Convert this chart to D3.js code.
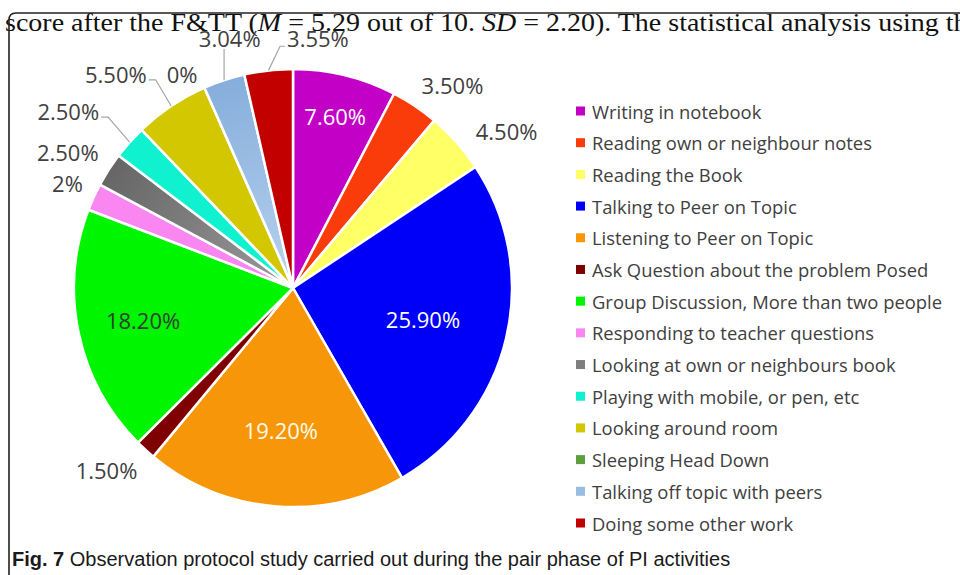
<!DOCTYPE html>
<html>
<head>
<meta charset="utf-8">
<script src="https://cdn.jsdelivr.net/npm/d3@7"></script>
<style>
  html, body { margin: 0; padding: 0; background: #fff; }
  svg { display: block; }
</style>
</head>
<body>
<div id="chart"></div>
<script>
"use strict";

// data
var categories = [
  "Writing in notebook",
  "Reading own or neighbour notes",
  "Reading the Book",
  "Talking to Peer on Topic",
  "Listening to Peer on Topic",
  "Ask Question about the problem Posed",
  "Group Discussion, More than two people",
  "Responding to teacher questions",
  "Looking at own or neighbours book",
  "Playing with mobile, or pen, etc",
  "Looking around room",
  "Sleeping Head Down",
  "Talking off topic with peers",
  "Doing some other work"
];
var values = [7.6, 3.5, 4.5, 25.9, 19.2, 1.5, 18.2, 2, 2.5, 2.5, 5.5, 0, 3.04, 3.55];
var valueLabels = ["7.60%", "3.50%", "4.50%", "25.90%", "19.20%", "1.50%", "18.20%",
                   "2%", "2.50%", "2.50%", "5.50%", "0%", "3.04%", "3.55%"];
var colors = ["#C300C6", "#FA3C0A", "#FFFF66", "#0000FA", "#F79608", "#7E0000", "#00F500",
              "#FA86F2", "#7F7F7F", "#10F2CF", "#D2C700", "#5E9E3F", "#98BDE3", "#C30000"];

var width = 960, height = 575;
var cx = 293, cy = 288, R = 219;

var svg = d3.select("#chart").append("svg")
  .attr("width", width).attr("height", height);

// two slices are shaded (darker at the rim) in the original
var defs = svg.append("defs");
function shade(id, inner, outer) {
  var gr = defs.append("radialGradient").attr("id", id)
    .attr("gradientUnits", "userSpaceOnUse")
    .attr("cx", 0).attr("cy", 0).attr("r", R);
  gr.append("stop").attr("offset", "0%").attr("stop-color", inner);
  gr.append("stop").attr("offset", "100%").attr("stop-color", outer);
}
shade("shadeGrey", "#9A9A9A", "#666666");
shade("shadeBlue", "#B8D2EE", "#86AEDC");
var fills = colors.slice();
fills[8] = "url(#shadeGrey)";
fills[12] = "url(#shadeBlue)";

// page text above the figure
var headText = svg.append("text")
  .attr("x", 5).attr("y", 31)
  .attr("font-family", "Liberation Serif, Times New Roman, serif")
  .attr("font-size", 25)
  .attr("fill", "#111")
  .attr("textLength", 975)
  .attr("lengthAdjust", "spacingAndGlyphs");
headText.append("tspan").text("score after the F&TT (");
headText.append("tspan").attr("font-style", "italic").text("M");
headText.append("tspan").text(" = 5.29 out of 10. ");
headText.append("tspan").attr("font-style", "italic").text("SD");
headText.append("tspan").text(" = 2.20). The statistical analysis using the");

// figure frame
svg.append("path")
  .attr("d", "M962,13 H16 Q9,13 9,20 V575")
  .attr("fill", "none").attr("stroke", "#222").attr("stroke-width", 1.6);

// pie
var pie = d3.pie().sort(null).value(function (d) { return d; });
var arcs = pie(values);
var arc = d3.arc().innerRadius(0).outerRadius(R);

var g = svg.append("g").attr("transform", "translate(" + cx + "," + cy + ")");

g.selectAll("path.slice")
  .data(arcs)
  .enter().append("path")
  .attr("class", "slice")
  .attr("d", arc)
  .attr("fill", function (d, i) { return fills[i]; })
  .attr("stroke", "#fff")
  .attr("stroke-width", 2.5)
  .attr("stroke-linejoin", "round");

// label placement tweaks (angle in degrees, distance from centre)
var outsideMoves = {
  2: { a: 53.7, d: 265 },
  9: { a: 308.2, d: 286, leader: true },
  10: { a: 320.4, d: 278, leader: true },
  11: { a: 332.6, d: 241 },
  12: { a: 345.8, d: 258, leader: true },
  13: { a: 5.7, d: 251, leader: true }
};
var insideDist = { 0: 0.81, 3: 0.61, 4: 0.65, 6: 0.70 };
var insideColor = { 0: "#fff", 3: "#fff", 4: "#FFFBEA", 6: "#2f3f2f" };

var labelFont = "Open Sans, Noto Sans, sans-serif";
var lblH = 22;

arcs.forEach(function (d, i) {
  var mid = (d.startAngle + d.endAngle) / 2;
  var t = g.append("text")
    .attr("font-family", labelFont)
    .attr("font-size", 22)
    .attr("text-anchor", "middle")
    .attr("dominant-baseline", "central")
    .text(valueLabels[i]);
  var w = t.node().getComputedTextLength();
  var x, y;

  if (insideDist[i] !== undefined) {
    x = Math.sin(mid) * R * insideDist[i];
    y = -Math.cos(mid) * R * insideDist[i];
    t.attr("fill", insideColor[i]);
  } else if (outsideMoves[i]) {
    var m = outsideMoves[i], a = m.a * Math.PI / 180;
    x = Math.sin(a) * m.d;
    y = -Math.cos(a) * m.d;
    t.attr("fill", "#404040");
    if (m.leader) {
      var ex = Math.sin(mid) * R, ey = -Math.cos(mid) * R;
      var pts;
      if (x + w / 2 < ex - 4) {
        pts = [[x + w / 2 + 2, y + 6], [x + w / 2 + 9, y + 6], [ex, ey]];
      } else if (x - w / 2 > ex + 4) {
        pts = [[x - w / 2 - 2, y + 8], [x - w / 2 - 7, y + 8], [ex, ey]];
      } else {
        pts = [[ex, y + lblH / 2], [ex, ey]];
      }
      g.append("path")
        .attr("d", d3.line()(pts))
        .attr("fill", "none")
        .attr("stroke", "#A6A6A6")
        .attr("stroke-width", 1.2);
    }
  } else {
    var px = Math.sin(mid) * (R + 12), py = -Math.cos(mid) * (R + 12);
    var kx = Math.max(-1, Math.min(1, Math.sin(mid) * 2));
    var ky = Math.max(-1, Math.min(1, Math.cos(mid) * 2));
    x = px + kx * w / 2;
    y = py - ky * lblH / 2;
    t.attr("fill", "#404040");
  }
  t.attr("x", x).attr("y", y);
});

// legend
var legY = d3.scalePoint().domain(d3.range(categories.length)).range([111, 523]);
var leg = svg.append("g").selectAll("g")
  .data(categories)
  .enter().append("g")
  .attr("transform", function (d, i) { return "translate(576," + legY(i) + ")"; });
leg.append("rect")
  .attr("x", 0).attr("y", -4.5)
  .attr("width", 9).attr("height", 9)
  .attr("fill", function (d, i) { return colors[i]; });
leg.append("text")
  .attr("x", 16).attr("y", 0)
  .attr("dominant-baseline", "central")
  .attr("font-family", labelFont)
  .attr("font-size", 18.4)
  .attr("fill", "#404040")
  .text(function (d) { return d; });

// caption
var cap = svg.append("text")
  .attr("x", 12).attr("y", 566)
  .attr("font-family", "Liberation Sans Narrow, Arial Narrow, sans-serif")
  .attr("font-size", 20)
  .attr("fill", "#1a1a1a");
cap.append("tspan").attr("font-weight", "bold").text("Fig. 7");
cap.append("tspan").text(" Observation protocol study carried out during the pair phase of PI activities");
</script>
</body>
</html>
